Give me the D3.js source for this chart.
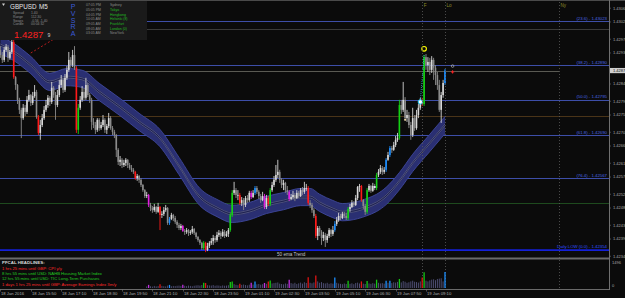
<!DOCTYPE html>
<html>
<head>
<meta charset="utf-8">
<script src="https://cdn.jsdelivr.net/npm/d3@7"></script>
<style>
html, body { margin: 0; padding: 0; background: #0b0b0b; overflow: hidden; }
svg { display: block; font-family: "Liberation Sans", Arial, sans-serif; }
</style>
</head>
<body>
<svg width="625" height="298"></svg>
<script>
// GBPUSD M5, prices in points above 1.42000 (879 = 1.42879)
const firstOpen = 939;
const closes = [
 924,910,939,948,916,933,962,860,837,794, 765,741,771,759,794,808,785,805,817,744,
 698,721,741,765,779,800,788,829,808,779, 808,837,852,823,858,881,910,895,924,887,
 707,771,794,817,800,837,808,794,730,721, 707,736,712,721,736,707,718,741,712,701,
 692,649,614,620,605,611,620,605,596,591, 585,567,573,562,547,532,515,518,489,480,
 474,483,469,483,460,463,474,480,437,448, 460,451,440,431,422,428,413,411,416,408,
 411,419,408,396,387,379,364,379,358,370, 379,384,393,387,402,408,399,411,399,405,
 416,460,524,532,518,518,495,503,489,509, 503,524,512,524,538,527,515,503,515,483,
 509,492,532,547,562,576,585,562,547,553, 532,527,506,512,518,509,524,515,532,527,
 538,538,495,489,474,457,399,422,411,393, 402,387,399,416,405,416,434,445,457,451,
 463,457,451,477,483,495,489,509,541,544, 503,486,469,532,544,530,544,538,576,585,
 596,585,591,620,634,654,649,663,678,683, 779,765,794,741,750,721,692,741,712,750,
 771,788,782,918,895,904,881,910,887,866, 837,765,808,843,879
];
const highs = [
 950,933,948,956,953,939,968,968,863,840, 800,771,782,779,805,823,811,817,837,823,
 750,736,753,776,794,808,805,846,834,817, 823,852,866,858,869,892,933,918,939,950,
 892,782,805,834,829,858,843,814,800,741, 730,741,741,730,750,741,724,756,747,718,
 707,695,654,631,625,620,625,622,611,605, 596,588,579,576,567,550,535,527,521,495,
 486,492,486,495,486,471,483,489,483,454, 466,463,457,445,437,434,431,419,422,419,
 416,428,422,411,399,390,382,384,382,379, 384,393,402,399,411,416,413,419,416,413,
 422,466,532,556,538,532,524,512,509,515, 518,530,530,532,544,544,532,521,527,521,
 518,515,538,556,573,605,620,591,567,562, 556,544,532,521,530,524,532,530,538,541,
 556,550,544,503,495,480,463,428,428,416, 411,408,405,422,419,428,442,454,466,463,
 469,469,466,483,492,503,500,518,544,550, 547,506,492,538,550,547,553,550,582,593,
 605,602,599,625,643,660,660,672,689,698, 794,794,846,802,765,759,730,771,750,765,
 782,800,800,924,927,918,916,921,916,895, 875,852,817,852,884
];
const lows = [
 916,901,904,933,904,910,927,855,823,782, 753,683,736,747,753,788,776,779,800,739,
 692,678,715,736,759,771,776,782,800,736, 773,802,829,814,817,852,875,887,889,881,
 698,695,765,788,791,794,802,785,707,712, 695,701,704,707,715,698,695,712,707,692,
 683,628,605,602,596,599,602,596,591,585, 579,562,559,553,541,527,509,509,483,471,
 466,469,463,466,416,451,457,469,431,431, 445,442,434,422,416,416,411,402,405,399,
 402,405,402,390,382,373,358,358,352,355, 364,373,373,379,382,396,390,396,393,396,
 396,411,454,518,509,503,489,486,474,483, 495,498,506,509,518,521,506,495,500,477,
 477,486,486,527,541,556,567,553,538,532, 524,518,500,503,506,500,506,509,512,518,
 521,530,489,480,466,451,393,387,399,373, 384,367,379,393,396,399,411,428,440,445,
 448,451,445,445,469,480,483,486,503,527, 498,477,460,463,527,524,527,532,532,570,
 579,576,579,585,617,628,640,646,657,672, 678,753,759,733,730,712,678,686,704,707,
 741,765,776,776,881,875,866,872,852,837, 823,759,727,800,837
];
// PVSRA coloured candles: r climax bear, g climax bull, b rising bull, m rising bear
const pvsra = [[7,"r"],[20,"r"],[40,"r"],[41,"g"],[71,"r"],[78,"m"],[84,"r"],[89,"b"],[96,"m"],
 [107,"g"],[108,"r"],[121,"g"],[122,"g"],[126,"r"],[132,"m"],[134,"b"],[139,"m"],[141,"r"],
 [142,"g"],[152,"m"],[162,"r"],[166,"r"],[176,"b"],[183,"g"],[190,"r"],[193,"g"],[198,"g"],
 [203,"b"],[205,"b"],[210,"g"],[222,"r"],[223,"g"],[234,"b"]];
// tick volume, shown from bar 77
const volStart = 77;
const volumes = [
 90,180,100,80,120,90,110,210,120,100, 90,140,180,100,120,110,130,140,120,190,
 130,110,140,120,100,130,150,160,140,170, 300,290,160,150,140,170,130,150,140,120,
 150,130,140,160,340,380,220,180,160,250, 180,200,170,150,190,300,200,370,210,230,
 190,220,290,240,380,430,260,280,300,320, 250,230,210,260,240,480,280,250,300,230,
 270,310,250,330,290,620,300,270,320,720, 380,300,340,280,260,300,240,270,250,600,
 300,260,240,220,260,230,420,240,270,220, 290,310,260,380,250,230,400,260,240,280,
 250,480,300,260,280,250,420,300,420,280, 330,310,350,520,320,400,360,300,330,380,
 420,360,340,310,380,600,900,420,380,440, 480,500,450,520,540,560,380,920
];
// 50 ema trend, read at these bars
const emaBars = [0,7,16,26,35,43,52,63,73,84,94,105,114,122,131,140,149,158,163,168,175,180,188,193,198,203,210,217,226,234];
const emaValues = [1.42953,1.42933,1.42895,1.42846,1.42860,1.42855,1.42817,1.42773,1.42730,1.42683,
 1.42602,1.42512,1.42480,1.42463,1.42471,1.42489,1.42500,1.42512,1.42512,1.42495,
 1.42477,1.42468,1.42474,1.42483,1.42495,1.42515,1.42558,1.42611,1.42669,1.42721];
const emaHalf = 0.00025;

const fibLevels = [
 {label: "(23.6) - 1.43023", price: 1.43023},
 {label: "(38.2) - 1.42890", price: 1.42895},
 {label: "(50.0) - 1.42795", price: 1.42795},
 {label: "(61.8) - 1.42690", price: 1.42692},
 {label: "(76.4) - 1.42567", price: 1.42567}
];
const dailyLow = {label: "Daily LOW (0.0) - 1.42354", price: 1.42358};
const roundLevels = [[1.43000, "#3a3a3a"], [1.42747, "#4a3418"], [1.42495, "#1e4a1e"]];
const bidPrice = 1.42879;
const sessions = [["F", 222], ["Lo", 234], ["Ny", 294]];

const priceTicks = ["1.4306","1.4302","1.4297","1.4293","1.4284","1.4279","1.4275","1.4270",
 "1.4266","1.4261","1.4257","1.4252","1.4248","1.4243","1.4239","1.4234"];
const timeLabels = ["18 Jan 2016","18 Jan 15:50","18 Jan 17:10","18 Jan 18:30","18 Jan 19:50",
 "18 Jan 21:10","18 Jan 22:30","18 Jan 23:50","19 Jan 01:10","19 Jan 02:30","19 Jan 03:50",
 "19 Jan 05:10","19 Jan 06:30","19 Jan 07:50","19 Jan 09:10"];
const headlines = [
 ["1 hrs 25 mins until GBP: CPI y/y", "#ff2a2a"],
 ["8 hrs 55 mins until USD: NAHB Housing Market Index", "#22cc22"],
 ["12 hrs 55 mins until USD: TIC Long-Term Purchases", "#22cc22"],
 ["1 days 1 hrs 25 mins until GBP: Average Earnings Index 3m/y", "#ff2a2a"]
];
const infoRows = [["Spread", "1.40"], ["Range", "112.30"], ["Swaps", "-0.56 -1.40"], ["Candle", "00:04:32"]];
const clocks = [["07:05 PM","Sydney","#8a8a8a"],["05:05 PM","Tokyo","#22bb22"],["04:05 PM","Hongkong","#22bb22"],
 ["10:05 AM","Helsinki (8)","#22bb22"],["09:05 AM","Frankfurt","#22bb22"],["08:05 AM","London (0)","#22bb22"],
 ["03:05 AM","NewYork","#8a8a8a"]];

const svg = d3.select("svg");
const plotR = 609, plotT = 2, plotB = 258;
const x = d3.scaleLinear().domain([0, 320]).range([0.4, 608.4]);
const y = d3.scaleLinear().domain([1.42335, 1.43078]).range([plotB, plotT]);
const vy = d3.scaleLinear().domain([0, 1496]).range([288, 262]);
const px = p => 1.42 + p / 100000;

const colorOf = {r: "#ff1a1a", g: "#14d214", b: "#1e90ff", m: "#e020e0"};
const volColor = {n: "#4c4c70", r: "#e01414", g: "#14c814", b: "#1e90ff", m: "#c030e0"};

const bars = closes.map((c, i) => ({
  i, o: px(i ? closes[i - 1] : firstOpen), c: px(c), h: px(highs[i]), l: px(lows[i]), k: "n"
}));
pvsra.forEach(([i, k]) => bars[i].k = k);

svg.append("rect").attr("width", 625).attr("height", 298).attr("fill", "#0b0b0b");
svg.append("defs").append("clipPath").attr("id", "main")
  .append("rect").attr("x", 0).attr("y", plotT).attr("width", plotR).attr("height", plotB - plotT);

const main = svg.append("g").attr("clip-path", "url(#main)");

// round number levels
main.selectAll(".lvl").data(roundLevels).join("line")
  .attr("x1", 0).attr("x2", plotR)
  .attr("y1", d => Math.round(y(d[0])) + 0.5).attr("y2", d => Math.round(y(d[0])) + 0.5)
  .attr("stroke", d => d[1]).attr("stroke-width", 1);

// fibo levels
main.selectAll(".fib").data(fibLevels).join("line")
  .attr("x1", 0).attr("x2", plotR)
  .attr("y1", d => Math.round(y(d.price)) + 0.5).attr("y2", d => Math.round(y(d.price)) + 0.5)
  .attr("stroke", "#3d4ea8").attr("stroke-width", 1);
main.selectAll(".fibt").data(fibLevels).join("text")
  .attr("x", 607).attr("y", d => y(d.price) - 1.3)
  .attr("text-anchor", "end").attr("font-size", 4.3).attr("fill", "#4a66e0")
  .text(d => d.label);

main.append("line").attr("x1", 0).attr("x2", plotR)
  .attr("y1", y(dailyLow.price)).attr("y2", y(dailyLow.price))
  .attr("stroke", "#1420d8").attr("stroke-width", 1.6);
main.append("text").attr("x", 607).attr("y", y(dailyLow.price) - 1.6)
  .attr("text-anchor", "end").attr("font-size", 4.3).attr("fill", "#3050ff")
  .text(dailyLow.label);

// bid line
main.append("line").attr("x1", 0).attr("x2", x(294))
  .attr("y1", Math.round(y(bidPrice)) + 0.5).attr("y2", Math.round(y(bidPrice)) + 0.5)
  .attr("stroke", "#6e6e66").attr("stroke-width", 0.8);

// session lines
svg.selectAll(".ses").data(sessions).join("line")
  .attr("x1", d => Math.round(x(d[1])) + 0.5).attr("x2", d => Math.round(x(d[1])) + 0.5)
  .attr("y1", plotT).attr("y2", 289)
  .attr("stroke", "#5a5a5a").attr("stroke-width", 0.8).attr("stroke-dasharray", "1,2");
svg.selectAll(".sest").data(sessions).join("text")
  .attr("x", d => x(d[1]) + 1.5).attr("y", 7)
  .attr("font-size", 4.6).attr("fill", "#8e8e2a").text(d => d[0]);

// 50 ema band
const ema = emaBars.map((b, j) => ({b, v: emaValues[j]}));
const band = d3.area().x(d => x(d.b)).y0(d => y(d.v - emaHalf)).y1(d => y(d.v + emaHalf)).curve(d3.curveMonotoneX);
const edge = off => d3.line().x(d => x(d.b)).y(d => y(d.v + off)).curve(d3.curveMonotoneX);
main.append("path").attr("d", band(ema)).attr("fill", "#2a2f72");
main.append("path").attr("d", d3.area().x(d => x(d.b)).y0(d => y(d.v - 0.00005)).y1(d => y(d.v + 0.00005)).curve(d3.curveMonotoneX)(ema))
  .attr("fill", "#1e2150");
[emaHalf, -emaHalf].forEach(o => main.append("path").attr("d", edge(o)(ema))
  .attr("fill", "none").attr("stroke", "#3e479c").attr("stroke-width", 0.9));
[0.00003, -0.00003].forEach(o => main.append("path").attr("d", edge(o)(ema))
  .attr("fill", "none").attr("stroke", "#7c80aa").attr("stroke-width", 0.5));

// red dashed trendline
main.append("line").attr("x1", x(16)).attr("y1", y(1.42930)).attr("x2", x(40)).attr("y2", y(1.43010))
  .attr("stroke", "#c81e1e").attr("stroke-width", 0.9).attr("stroke-dasharray", "2,2");

// candles
const cg = main.append("g");
cg.selectAll(".wick").data(bars).join("line")
  .attr("x1", d => x(d.i)).attr("x2", d => x(d.i))
  .attr("y1", d => y(d.h)).attr("y2", d => y(d.l))
  .attr("stroke", d => d.k !== "n" ? colorOf[d.k] : (d.c >= d.o ? "#d4d4d4" : "#8a8a8a"))
  .attr("stroke-width", 0.9);
cg.selectAll(".body").data(bars).join("rect")
  .attr("x", d => x(d.i) - 0.8).attr("width", 1.6)
  .attr("y", d => y(Math.max(d.o, d.c)))
  .attr("height", d => Math.max(0.8, Math.abs(y(d.o) - y(d.c))))
  .attr("fill", d => d.k !== "n" ? colorOf[d.k] : (d.c >= d.o ? "#d8d8d8" : "#8c8c8c"));

// markers
main.append("circle").attr("cx", x(223)).attr("cy", y(1.42942)).attr("r", 2.3)
  .attr("fill", "none").attr("stroke", "#ffff00").attr("stroke-width", 1.1);
main.append("line").attr("x1", x(221)).attr("y1", y(1.42788)).attr("x2", x(223)).attr("y2", y(1.42925))
  .attr("stroke", "#35c8e8").attr("stroke-width", 0.7).attr("stroke-dasharray", "1,1");
main.append("circle").attr("cx", x(221)).attr("cy", y(1.42788)).attr("r", 2.2)
  .attr("fill", "#ffffff").attr("stroke", "#1ec8f0").attr("stroke-width", 1);
main.append("circle").attr("cx", x(238)).attr("cy", y(1.42892)).attr("r", 1.3)
  .attr("fill", "none").attr("stroke", "#b0b0b0").attr("stroke-width", 0.7);
main.append("path").attr("transform", `translate(${x(238)},${y(1.42875)})`)
  .attr("d", "M-1.6,0H1.6M0,-1.6V1.6").attr("stroke", "#ff2020").attr("stroke-width", 1);
main.append("circle").attr("cx", x(197)).attr("cy", y(1.42541)).attr("r", 1.1).attr("fill", "#e8e8ff");
main.append("circle").attr("cx", x(213)).attr("cy", y(1.42736)).attr("r", 1).attr("fill", "#f0d8a0");

main.append("text").attr("x", 277).attr("y", 256).attr("font-size", 4.6).attr("fill", "#c4c4c4").text("50 ema Trend");

// info box
const info = svg.append("g");
info.append("rect").attr("x", 0).attr("y", 0).attr("width", 147).attr("height", 40).attr("fill", "#1a1a1a");
info.append("path").attr("d", "M2,3.5L5,3.5L3.5,6Z").attr("fill", "#d0d0d0");
info.append("text").attr("x", 10).attr("y", 8.8).attr("font-size", 6.3).attr("fill", "#e6e6e6").text("GBPUSD");
info.append("text").attr("x", 39).attr("y", 8.8).attr("font-size", 6.3).attr("fill", "#e6e6e6").text("M5");
infoRows.forEach((r, j) => {
  info.append("text").attr("x", 13).attr("y", 14 + j * 3.8).attr("font-size", 3.4).attr("fill", "#8c8c8c").text(r[0]);
  info.append("text").attr("x", 31).attr("y", 14 + j * 3.8).attr("font-size", 3.4).attr("fill", "#8c8c8c").text(r[1]);
});
info.append("text").attr("x", 14).attr("y", 38.3).attr("font-size", 9.6).attr("fill", "#ff2020").text("1.4287");
info.append("text").attr("x", 47.5).attr("y", 37).attr("font-size", 5.2).attr("fill", "#d0d0d0").text("9");
"PVSRA".split("").forEach((c, j) => info.append("text").attr("x", 73).attr("y", 9 + j * 6.8)
  .attr("text-anchor", "middle").attr("font-size", 7).attr("fill", "#3a5ad8").text(c));
clocks.forEach((r, j) => {
  info.append("text").attr("x", 86).attr("y", 6.2 + j * 4.7).attr("font-size", 3.5).attr("fill", "#8a8a8a").text(r[0]);
  info.append("text").attr("x", 110).attr("y", 6.2 + j * 4.7).attr("font-size", 3.5).attr("fill", r[2]).text(r[1]);
});

// frame
svg.append("line").attr("x1", 0).attr("x2", 625).attr("y1", 0.5).attr("y2", 0.5).attr("stroke", "#4a4a4a");
svg.append("rect").attr("x", 0).attr("y", 257.5).attr("width", plotR).attr("height", 2).attr("fill", "#6a6a6a");
svg.append("line").attr("x1", 0).attr("x2", plotR).attr("y1", 289.5).attr("y2", 289.5).attr("stroke", "#6a6a6a");
svg.append("line").attr("x1", plotR + 0.5).attr("x2", plotR + 0.5).attr("y1", 0).attr("y2", 290).attr("stroke", "#707070");

// price axis
const ax = svg.append("g");
priceTicks.forEach(t => {
  const yy = y(+t);
  ax.append("line").attr("x1", plotR).attr("x2", plotR + 2).attr("y1", yy).attr("y2", yy).attr("stroke", "#707070").attr("stroke-width", 0.6);
  ax.append("text").attr("x", 613).attr("y", yy + 1.4).attr("font-size", 4).attr("fill", "#a8a8a8").text(t);
});
ax.append("rect").attr("x", 610).attr("y", y(bidPrice) - 2.6).attr("width", 15).attr("height", 5.2).attr("fill", "#cfcfcf");
ax.append("text").attr("x", 613).attr("y", y(bidPrice) + 1.4).attr("font-size", 4).attr("fill", "#111").text("1.4287");

// volume panel
const vols = volumes.map((v, j) => ({i: volStart + j, v, k: bars[volStart + j].k}));
svg.append("g").selectAll("line").data(vols).join("line")
  .attr("x1", d => x(d.i)).attr("x2", d => x(d.i))
  .attr("y1", vy(0)).attr("y2", d => vy(d.v))
  .attr("stroke", d => volColor[d.k]).attr("stroke-width", d => d.k === "n" ? 1 : 1.3);
svg.append("text").attr("x", 612).attr("y", vy(1496) + 1.5).attr("font-size", 4).attr("fill", "#a8a8a8").text("1496");
svg.append("text").attr("x", 612).attr("y", 287).attr("font-size", 4).attr("fill", "#a8a8a8").text("0");

// headlines
svg.append("text").attr("x", 2).attr("y", 264.3).attr("font-size", 4.4).attr("font-weight", "bold").attr("fill", "#d8d8d8").text("PFCAL HEADLINES:");
headlines.forEach((h, j) => svg.append("text").attr("x", 2).attr("y", 269.8 + j * 5.3)
  .attr("font-size", 4.2).attr("fill", h[1]).text(h[0]));

// time axis
timeLabels.forEach((t, j) => {
  const xx = Math.round(x(j * 16)) + 0.5;
  svg.append("line").attr("x1", xx).attr("x2", xx).attr("y1", 289.5).attr("y2", 291.5).attr("stroke", "#808080").attr("stroke-width", 0.6);
  svg.append("text").attr("x", xx + 0.5).attr("y", 294.6).attr("font-size", 4.2).attr("fill", "#b0b0b0").text(t);
});
</script>
</body>
</html>
